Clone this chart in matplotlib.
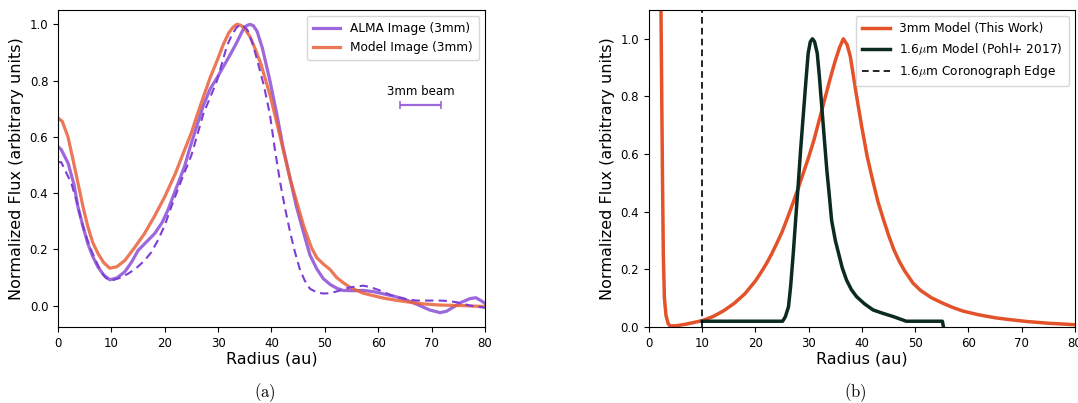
import numpy as np
import matplotlib.pyplot as plt

plt.rcParams['mathtext.fontset'] = 'cm'

# ---- panel (a): radial profiles, 3mm
alma_r = [0, 0.6, 1.9, 3.0, 3.75, 4.7, 5.6, 6.5, 7.5, 8.6, 9.7, 11.0, 12.5, 13.8, 15.0, 16.5, 18.1, 19.5,
          20.6, 22.0, 23.7, 24.7, 26.2, 27.2, 28.5, 29.8, 31.0, 32.2, 33.2, 34.0, 34.7, 35.4, 36.0,
          36.6, 37.3, 38.3, 39.7, 41.0, 42.2, 43.5, 44.7, 46.0, 47.2, 48.5, 49.7, 51.0, 52.2, 53.4,
          55.3, 57.2, 59.0, 60.9, 62.8, 64.6, 66.2, 67.8, 69.7, 71.6, 72.8, 74.0, 75.6, 77.2, 78.3,
          79.4, 80.0]
alma_f = [0.565, 0.555, 0.506, 0.43, 0.35, 0.28, 0.22, 0.175, 0.137, 0.108, 0.092, 0.098, 0.12, 0.155, 0.196,
          0.225, 0.256, 0.295, 0.34, 0.41, 0.494, 0.56, 0.65, 0.71, 0.77, 0.81, 0.85, 0.89, 0.925, 0.955,
          0.982, 0.996, 1.0, 0.995, 0.975, 0.915, 0.80, 0.68, 0.56, 0.45, 0.35, 0.26, 0.18, 0.13, 0.096,
          0.075, 0.062, 0.054, 0.053, 0.054, 0.05, 0.042, 0.034, 0.025, 0.013, 0.0, -0.016, -0.025,
          -0.02, -0.006, 0.012, 0.025, 0.028, 0.016, 0.008]

deproj_r = [0, 0.6, 2.5, 3.5, 4.4, 5.3, 6.25, 7.2, 8.1, 9.0, 10.0, 11.5, 13.1, 14.6, 16.2, 17.5, 18.7, 20.0,
            21.2, 23.0, 25.0, 26.0, 27.2, 28.5, 29.8, 30.7, 31.6, 32.5, 33.5, 34.4, 35.5, 36.5, 37.5,
            38.6, 39.7, 40.6, 41.6, 42.5, 43.5, 44.4, 45.3, 46.2, 47.2, 48.5, 49.7, 51.0, 52.5, 54.7,
            57.2, 58.5, 60.3, 62.0, 63.5, 65.5, 67.2, 69.5, 71.6, 73.2, 74.7, 76.0, 77.2, 79.4, 80.0]
deproj_f = [0.51, 0.51, 0.435, 0.37, 0.30, 0.245, 0.196, 0.155, 0.12, 0.098, 0.089, 0.098, 0.113, 0.132,
            0.16, 0.19, 0.232, 0.285, 0.35, 0.44, 0.535, 0.60, 0.68, 0.74, 0.80, 0.86, 0.92, 0.96, 0.99,
            1.0, 0.98, 0.93, 0.86, 0.78, 0.68, 0.56, 0.44, 0.35, 0.26, 0.19, 0.13, 0.09, 0.06, 0.047,
            0.043, 0.044, 0.052, 0.065, 0.071, 0.066, 0.054, 0.04, 0.03, 0.022, 0.018, 0.018, 0.018,
            0.016, 0.012, 0.006, 0.0, -0.006, -0.008]

model_r = [0, 0.8, 1.87, 2.8, 3.75, 4.7, 5.6, 6.5, 7.5, 8.6, 9.7, 11.0, 12.5, 14.3, 16.2, 18.0, 20.0,
           22.0, 23.7, 25.0, 26.2, 27.2, 28.5, 30.0, 31.0, 32.0, 32.8, 33.5, 34.2, 35.0, 36.0, 37.0,
           38.0, 39.7, 41.0, 42.0, 43.5, 44.7, 46.0, 47.5, 48.5, 49.7, 51.0, 52.2, 53.4, 54.7, 56.0,
           57.2, 58.5, 60.9, 63.0, 65.9, 68.5, 71.6, 75.9, 79.4, 80.0]
model_f = [0.667, 0.655, 0.60, 0.52, 0.435, 0.35, 0.28, 0.225, 0.185, 0.152, 0.133, 0.138, 0.16, 0.205,
           0.256, 0.315, 0.387, 0.47, 0.553, 0.615, 0.685, 0.74, 0.81, 0.88, 0.93, 0.97, 0.99, 1.0, 0.997,
           0.985, 0.955, 0.91, 0.86, 0.75, 0.65, 0.57, 0.45, 0.37, 0.285, 0.205, 0.17, 0.148, 0.128, 0.1,
           0.082, 0.065, 0.054, 0.044, 0.038, 0.027, 0.02, 0.012, 0.006, 0.002, 0.0, -0.003, -0.003]

beam_center = 68.0
beam_halfwidth = 3.85
beam_level = 0.713

# ---- panel (b): model profiles
mm_r = [2.15, 2.26, 2.4, 2.55, 2.7, 2.9, 3.2, 3.6, 3.94, 5.0, 7.0, 10.0, 12.0, 14.0, 16.0, 18.0, 20.0,
        21.0, 22.0, 23.0, 24.0, 25.0, 26.0, 27.0, 28.0, 29.0, 30.0, 31.0, 32.0, 33.0, 34.0, 35.0,
        35.8, 36.5, 37.2, 37.8, 38.4, 39.0, 40.0, 41.0, 42.0, 43.0, 44.0, 45.0, 46.0, 47.0, 48.0,
        49.6, 51.0, 53.0, 55.0, 57.0, 59.0, 62.0, 65.0, 68.0, 71.0, 75.0, 80.0]
mm_f = [1.4, 1.1, 0.8, 0.5, 0.25, 0.1, 0.04, 0.012, 0.004, 0.004, 0.01, 0.022, 0.036, 0.056, 0.082,
        0.115, 0.16, 0.188, 0.218, 0.252, 0.29, 0.33, 0.378, 0.428, 0.48, 0.535, 0.59, 0.65, 0.72, 0.79,
        0.86, 0.925, 0.97, 1.0, 0.98, 0.94, 0.87, 0.80, 0.69, 0.59, 0.51, 0.435, 0.375, 0.318, 0.268,
        0.228, 0.195, 0.152, 0.127, 0.102, 0.084, 0.068, 0.055, 0.042, 0.032, 0.025, 0.019, 0.013,
        0.008]

nir_r = [10.0, 25.1, 25.6, 26.2, 26.6, 27.1, 27.5, 28.0, 28.5, 29.0, 29.5, 29.9, 30.3, 30.7, 31.1, 31.6,
         32.0, 32.4, 32.9, 33.4, 33.9, 34.3, 35.0, 35.6, 36.3, 37.1, 38.0, 39.0, 40.5, 42.1, 44.0,
         45.9, 48.3, 55.1, 55.3]
nir_f = [0.02, 0.02, 0.035, 0.07, 0.14, 0.256, 0.36, 0.487, 0.62, 0.74, 0.86, 0.95, 0.99, 1.0, 0.99, 0.95,
         0.87, 0.777, 0.66, 0.545, 0.45, 0.37, 0.3, 0.256, 0.205, 0.163, 0.13, 0.105, 0.08, 0.059, 0.047,
         0.036, 0.02, 0.02, 0.0]

corona_edge = 10.0

fig = plt.figure(figsize=(10.78, 4.03), dpi=100)
ax1 = fig.add_axes([0.0538, 0.1886, 0.3961, 0.7866])
ax2 = fig.add_axes([0.602, 0.1886, 0.3952, 0.7866])

# (a)
ax1.plot(alma_r, alma_f, color='#9258d8', lw=2.3, alpha=0.9, label='ALMA Image (3mm)')
ax1.plot(model_r, model_f, color='#e8603a', lw=2.3, alpha=0.85, label='Model Image (3mm)')
ax1.plot(deproj_r, deproj_f, color='#7b3fd6', lw=1.5, ls='--', dashes=(4, 2.5))
ax1.errorbar([beam_center], [beam_level], xerr=[beam_halfwidth], color='#9258d8', lw=1.6,
             capsize=3, capthick=1.2, alpha=0.9)
ax1.text(beam_center, beam_level + 0.025, '3mm beam', ha='center', va='bottom', fontsize=8.5)
ax1.set_xlim(0, 80)
ax1.set_ylim(-0.076, 1.051)
ax1.set_xlabel('Radius (au)', fontsize=11.5, labelpad=1)
ax1.set_ylabel('Normalized Flux (arbitrary units)', fontsize=11.5, labelpad=4)
ax1.tick_params(labelsize=8.5)
ax1.legend(loc='upper right', fontsize=8.7, handlelength=2.3, borderpad=0.5, labelspacing=0.5)

# (b)
ax2.plot(mm_r, mm_f, color='#e4522a', lw=2.5, label='3mm Model (This Work)')
ax2.plot(nir_r, nir_f, color='#0b2a22', lw=2.5, label=r'1.6$\mu$m Model (Pohl+ 2017)')
ax2.axvline(corona_edge, color='black', lw=1.2, ls='--', dashes=(4, 2.5),
            label=r'1.6$\mu$m Coronograph Edge')
ax2.set_xlim(0, 80)
ax2.set_ylim(0, 1.1)
ax2.set_xlabel('Radius (au)', fontsize=11.5, labelpad=1)
ax2.set_ylabel('Normalized Flux (arbitrary units)', fontsize=11.5, labelpad=4)
ax2.tick_params(labelsize=8.5)
ax2.legend(loc='upper right', fontsize=8.7, handlelength=2.3, borderpad=0.5, labelspacing=0.5)

fig.text(265 / 1078, 1 - 393 / 403, r'$\mathrm{(a)}$', ha='center', va='center', fontsize=12)
fig.text(855 / 1078, 1 - 393 / 403, r'$\mathrm{(b)}$', ha='center', va='center', fontsize=12)

fig.savefig('out.png', dpi=100)
